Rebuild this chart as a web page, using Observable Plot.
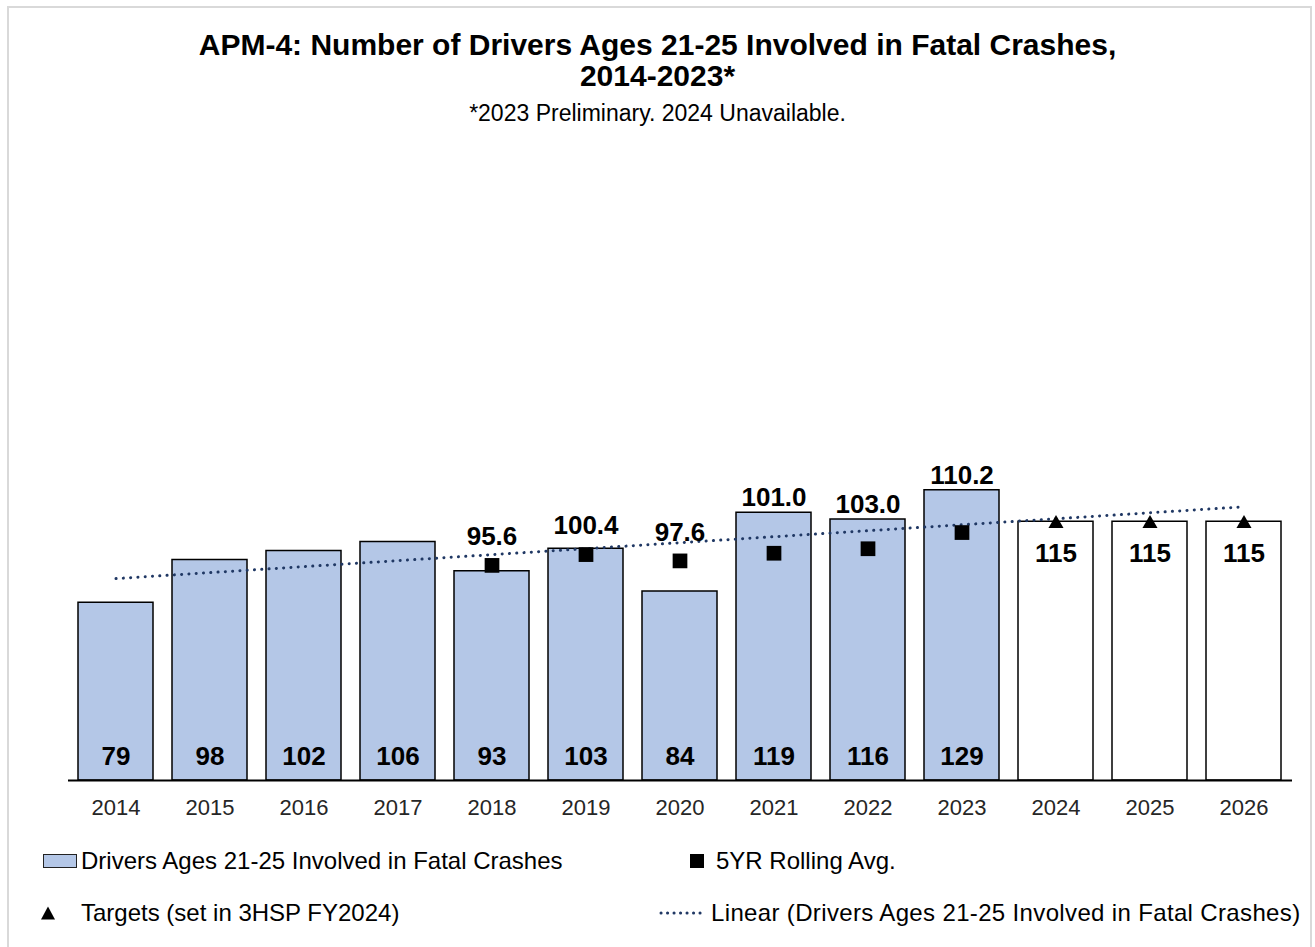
<!DOCTYPE html>
<html>
<head>
<meta charset="utf-8">
<script src="https://cdn.jsdelivr.net/npm/d3@7"></script>
<script src="https://cdn.jsdelivr.net/npm/@observablehq/plot@0.6"></script>
<style>
  body { margin: 0; background: #fff; font-family: "Liberation Sans", Arial, sans-serif; color: #000; }
  #wrap { position: relative; width: 1315px; height: 947px; overflow: hidden; background: #fff; }
  #frame { position: absolute; left: 7px; top: 6px; width: 1305px; height: 1000px; border: 2px solid #d9d9d9; box-sizing: border-box; }
  .t { position: absolute; left: 0; width: 1315px; text-align: center; white-space: nowrap; }
  .title { font-size: 30px; font-weight: bold; line-height: 34px; }
  .sub { font-size: 23px; line-height: 28px; }
  #chart { position: absolute; left: 0; top: 130px; }
  .lg { position: absolute; font-size: 24px; line-height: 30px; white-space: nowrap; color: #000; }
  .sw { position: absolute; }
</style>
</head>
<body>
<div id="wrap">
  <div id="frame"></div>
  <div class="t title" style="top:28px">APM-4: Number of Drivers Ages 21-25 Involved in Fatal Crashes,</div>
  <div class="t title" style="top:59px">2014-2023*</div>
  <div class="t sub" style="top:99px">*2023 Preliminary. 2024 Unavailable.</div>
  <div id="chart"></div>

  <!-- legend -->
  <div class="sw" style="left:43px;top:854px;width:34px;height:14px;background:#B4C7E7;border:1.5px solid #222;box-sizing:border-box;"></div>
  <div class="lg" style="left:81px;top:846px">Drivers Ages 21-25 Involved in Fatal Crashes</div>
  <div class="sw" style="left:690px;top:854px;width:14px;height:14px;background:#000;"></div>
  <div class="lg" style="left:716px;top:846px">5YR Rolling Avg.</div>
  <svg class="sw" style="left:40px;top:905px" width="16" height="16"><path d="M8,1.5 L15,14.5 L1,14.5 Z" fill="#000"/></svg>
  <div class="lg" style="left:81px;top:898px">Targets (set in 3HSP FY2024)</div>
  <svg class="sw" style="left:658px;top:908px" width="50" height="10"><line x1="3" y1="5" x2="48" y2="5" stroke="#203864" stroke-width="3" stroke-linecap="round" stroke-dasharray="0.1 6.4"/></svg>
  <div class="lg" style="left:711px;top:898px;letter-spacing:0.35px">Linear (Drivers Ages 21-25 Involved in Fatal Crashes)</div>
</div>
<script>
// ---- data ----
const years = ["2014","2015","2016","2017","2018","2019","2020","2021","2022","2023","2024","2025","2026"];
const actualYears = ["2014","2015","2016","2017","2018","2019","2020","2021","2022","2023"];
const actualValues = [79, 98, 102, 106, 93, 103, 84, 119, 116, 129];
const targetYears = ["2024","2025","2026"];
const targetValues = [115, 115, 115];
const avgYears = ["2018","2019","2020","2021","2022","2023"];
const avgValues = [95.6, 100.4, 97.6, 101.0, 103.0, 110.2];

// ---- tables ----
const actual = actualYears.map((year, i) => ({year, value: actualValues[i]}));
const targets = targetYears.map((year, i) => ({year, value: targetValues[i]}));
const avg = avgYears.map((year, i) => ({year, value: avgValues[i]}));
const barByYear = new Map(actual.concat(targets).map(d => [d.year, d.value]));

// Linear trendline (least squares over the bar series, as in the spreadsheet)
const series = actual.concat(targets);
const xs = series.map((d, i) => i + 1);
const ys = series.map(d => d.value);
const mx = d3.mean(xs), my = d3.mean(ys);
const slope = d3.sum(xs, (x, i) => (x - mx) * (ys[i] - my)) / d3.sum(xs, x => (x - mx) ** 2);
const intercept = my - slope * mx;
const trend = series.map((d, i) => ({year: d.year, value: intercept + slope * (i + 1)}));

const font = "Liberation Sans, Arial, sans-serif";

const chart = Plot.plot({
  width: 1315,
  height: 690,
  marginTop: 20,
  marginBottom: 40,
  marginLeft: 68,
  marginRight: 23,
  x: {domain: years, paddingInner: 0.2, paddingOuter: 0.1, tickSize: 0, tickPadding: 19, label: null},
  y: {domain: [0, 280], axis: null},
  style: {fontFamily: font, fontSize: "22px", color: "#262626", background: "transparent", overflow: "visible"},
  marks: [
    Plot.barY(actual, {x: "year", y: "value", fill: "#B4C7E7", stroke: "#000", strokeWidth: 1.5}),
    Plot.barY(targets, {x: "year", y: "value", fill: "#fff", stroke: "#000", strokeWidth: 1.5}),
    Plot.ruleY([0], {stroke: "#000", strokeWidth: 2}),
    Plot.line(trend, {x: "year", y: "value", stroke: "#203864", strokeWidth: 3, strokeDasharray: "0.1 7.2", strokeLinecap: "round"}),
    Plot.dot(avg, {x: "year", y: "value", symbol: "square", r: 8.3, fill: "#000"}),
    Plot.dot(targets, {x: "year", y: "value", symbol: "triangle", r: 5.6, fill: "#000", dy: 2}),
    Plot.text(actual, {x: "year", y: 0, text: d => String(d.value), dy: -24, fontSize: 26, fontWeight: "bold", fill: "#000", fontFamily: font}),
    Plot.text(targets, {x: "year", y: "value", text: d => String(d.value), dy: 32, fontSize: 26, fontWeight: "bold", fill: "#000", fontFamily: font}),
    Plot.text(avg, {x: "year", y: d => Math.max(barByYear.get(d.year), d.value + 6), text: d => d.value.toFixed(1), dy: -15, fontSize: 26, fontWeight: "bold", fill: "#000", fontFamily: font})
  ]
});
document.getElementById("chart").appendChild(chart);
</script>
</body>
</html>
